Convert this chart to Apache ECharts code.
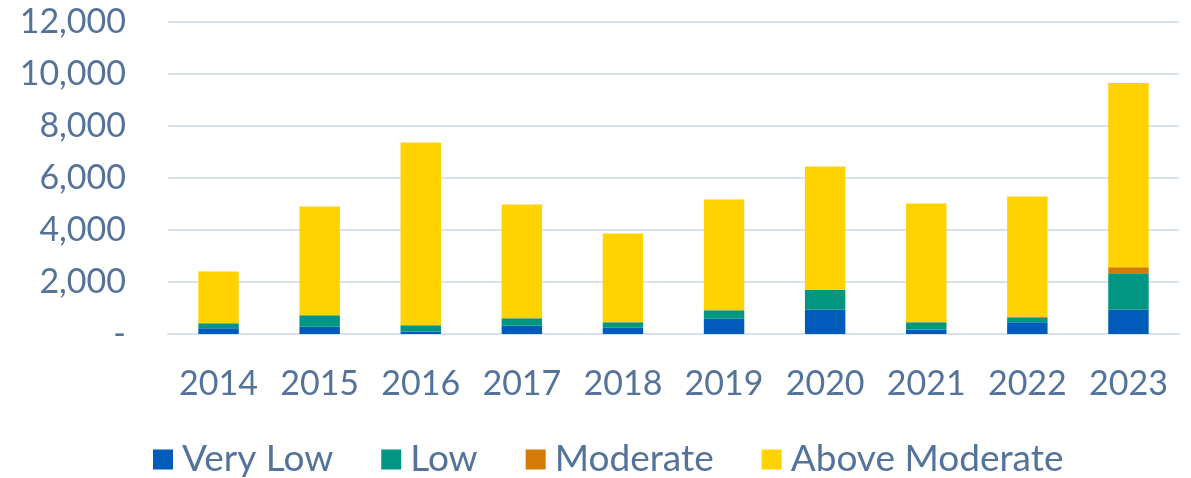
<!DOCTYPE html>
<html><head><meta charset="utf-8">
<script src="https://cdn.jsdelivr.net/npm/echarts@6/dist/echarts.min.js"></script>
<style>html,body{margin:0;padding:0;background:#fff}#c{width:1191px;height:478px}</style>
</head><body><div id="c"></div>
<script>
const years = ['2014','2015','2016','2017','2018','2019','2020','2021','2022','2023'];
const veryLow = [220, 275, 95, 315, 240, 585, 930, 175, 455, 930];
const low = [195, 450, 245, 295, 215, 330, 770, 280, 170, 1410];
const moderate = [0, 0, 0, 0, 0, 0, 0, 0, 50, 230];
const aboveModerate = [1985, 4175, 7025, 4370, 3410, 4260, 4740, 4565, 4615, 7080];
const seriesNames = ['Very Low','Low','Moderate','Above Moderate'];
const colors = ['#005BBB','#009682','#D57A05','#FFD200'];
const txt = '#53739B';
const font = 'Lato';
const chart = echarts.init(document.getElementById('c'));
const data = [veryLow, low, moderate, aboveModerate];
chart.setOption({
  animation:false,
  textStyle:{fontFamily:font},
  grid:{left:168,right:12,top:22,bottom:144},
  legend:{left:148,top:436,itemWidth:20,itemHeight:20,itemGap:48,icon:'rect',
    textStyle:{color:txt,fontSize:37,fontFamily:font,padding:[0,0,0,4]},
    data:seriesNames},
  xAxis:{type:'category',data:years,axisTick:{show:false},
    axisLine:{lineStyle:{color:'#D9E1EA',width:2}},
    axisLabel:{color:txt,fontSize:34,margin:33,interval:0,fontFamily:font}},
  yAxis:{type:'value',min:0,max:12000,interval:2000,
    axisLabel:{color:txt,fontSize:34,margin:42,fontFamily:font,
      formatter:v=>v===0?'-':v.toLocaleString('en-US')},
    splitLine:{lineStyle:{color:'#D9E1EA',width:2}}},
  series:seriesNames.map((n,i)=>({name:n,type:'bar',stack:'a',barWidth:'40%',
    itemStyle:{color:colors[i]},data:data[i]}))
});
</script></body></html>
